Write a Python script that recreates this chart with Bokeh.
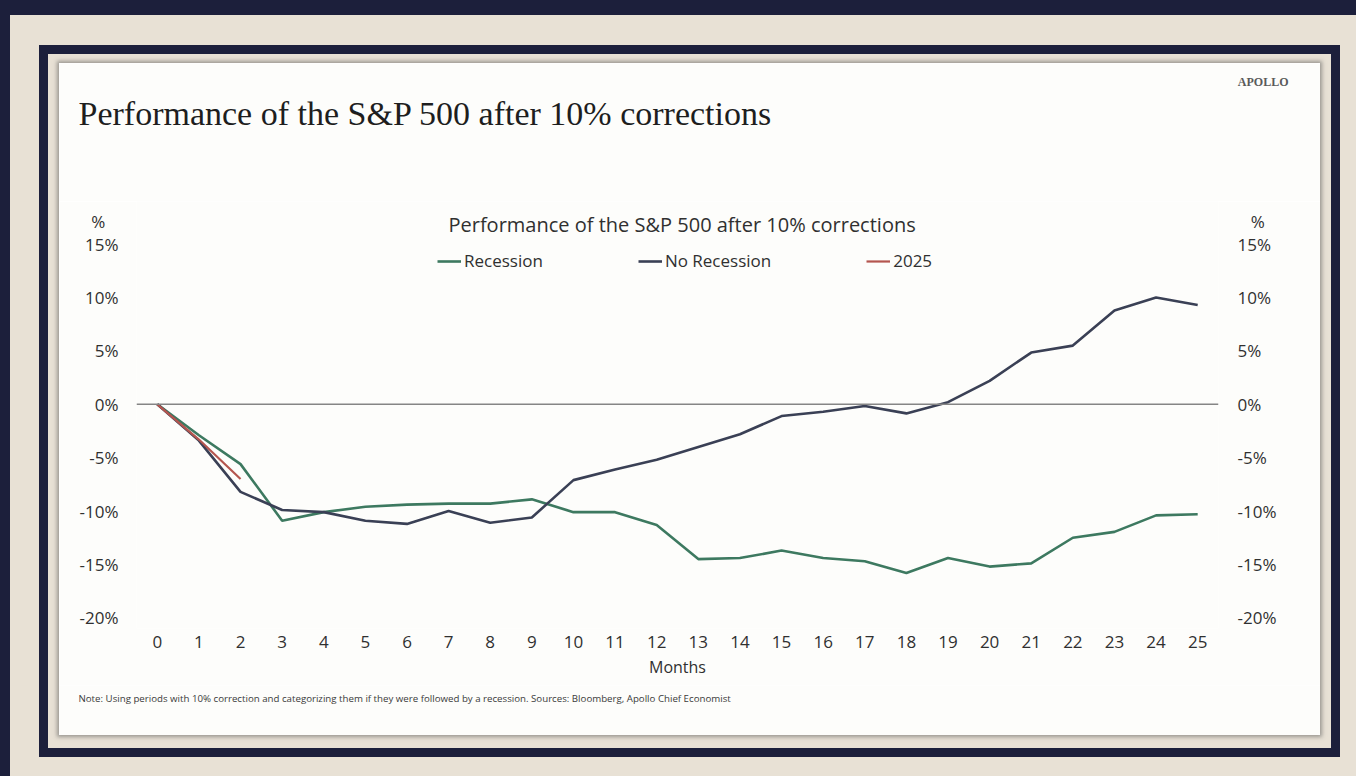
from bokeh.plotting import figure
from bokeh.models import Range1d, LinearAxis, FixedTicker, CustomJSTickFormatter, Span, Label
from bokeh.layouts import column
from bokeh.embed import file_html
from bokeh.resources import INLINE

# ---------------- data ----------------
months = list(range(26))
recession = [0, -2.9, -5.6, -10.9, -10.1, -9.6, -9.4, -9.3, -9.3, -8.9,
             -10.1, -10.1, -11.3, -14.5, -14.4, -13.7, -14.4, -14.7, -15.8, -14.4,
             -15.2, -14.9, -12.5, -11.95, -10.4, -10.3]
no_recession = [0, -3.4, -8.2, -9.9, -10.1, -10.9, -11.2, -10.0, -11.1, -10.6,
                -7.1, -6.1, -5.2, -4.0, -2.8, -1.1, -0.7, -0.15, -0.85, 0.2,
                2.2, 4.85, 5.5, 8.8, 10.0, 9.3]
months_2025 = [0, 1, 2]
y2025 = [0, -3.3, -7.0]
y_ticks = [-20, -15, -10, -5, 0, 5, 10, 15]
series_names = ["Recession", "No Recession", "2025"]

title_text = "Performance of the S&P 500 after 10% corrections"
subtitle_text = "Performance of the S&P 500 after 10% corrections"
brand_text = "APOLLO"
note_text = ("Note: Using periods with 10% correction and categorizing them if they were "
             "followed by a recession. Sources: Bloomberg, Apollo Chief Economist")

# ---------------- style ----------------
W = 1261
PANEL = "#fdfdfb"
NAVY = "#1c1f3b"
BEIGE = "#e8e1d5"
GREEN = "#3d7960"
SLATE = "#3a4055"
RED = "#b4564f"
TXT = "#303030"
SANS = "Open Sans"
SERIF = "Liberation Serif"
PCT_HEADER_POS = 17.1


def no_align(fig):
    if "frame_align" in fig.properties():
        fig.frame_align = False


# ---------------- header ----------------
header = figure(width=W, height=138, x_range=Range1d(0, W), y_range=Range1d(138, 0),
                x_axis_type=None, y_axis_type=None, min_border=0,
                toolbar_location=None, output_backend="svg", outline_line_color=None,
                background_fill_color=PANEL, border_fill_color=PANEL)
no_align(header)
header.add_layout(Label(x=19, y=50, text=title_text, text_font=SERIF, text_font_size="34px",
                        text_color="#1e1e1e", text_baseline="alphabetic", text_align="left"))
header.add_layout(Label(x=1229, y=18.5, text=brand_text, text_font=SERIF, text_font_size="12px",
                        text_font_style="bold", text_color="#5a5a5a",
                        text_baseline="alphabetic", text_align="right"))

# ---------------- main chart ----------------
p = figure(width=W, height=484, x_range=Range1d(-0.5, 25.5), y_range=Range1d(-21, 19),
           min_border_left=77, min_border_right=102, min_border_top=0, min_border_bottom=57,
           toolbar_location=None, output_backend="svg", outline_line_color=None,
           background_fill_color=PANEL, border_fill_color=PANEL)
no_align(p)
p.xgrid.visible = False
p.ygrid.visible = False

NB = "\\u00a0\\u00a0\\u00a0"
LEFT_CODE = "return tick > 16 ? '%" + NB + "' : tick.toFixed(0) + '%';"
RIGHT_CODE = "return tick > 16 ? '" + NB + "%' : tick.toFixed(0) + '%';"
p.yaxis.ticker = FixedTicker(ticks=y_ticks + [PCT_HEADER_POS])
p.yaxis.formatter = CustomJSTickFormatter(code=LEFT_CODE)
right_axis = LinearAxis(ticker=FixedTicker(ticks=y_ticks + [PCT_HEADER_POS]),
                        formatter=CustomJSTickFormatter(code=RIGHT_CODE))
p.add_layout(right_axis, "right")
p.xaxis.ticker = FixedTicker(ticks=months)
p.xaxis.axis_label = "Months"

for ax in [p.xaxis[0], p.yaxis[0], right_axis]:
    ax.axis_line_color = None
    ax.major_tick_line_color = None
    ax.minor_tick_line_color = None
    ax.major_tick_out = 0
    ax.major_tick_in = 0
    ax.minor_tick_out = 0
    ax.minor_tick_in = 0
    ax.major_label_text_font = SANS
    ax.major_label_text_font_size = "17px"
    ax.major_label_text_color = TXT
    ax.axis_label_text_font = SANS
    ax.axis_label_text_font_size = "16px"
    ax.axis_label_text_font_style = "normal"
    ax.axis_label_text_color = TXT
p.yaxis[0].major_label_standoff = 18
right_axis.major_label_standoff = 19
p.xaxis[0].major_label_standoff = 7
p.xaxis[0].axis_label_standoff = 5

p.add_layout(Span(location=0, dimension="width", line_color="#858585", line_width=1.5))

p.line(months, recession, line_color=GREEN, line_width=2.6, legend_label=series_names[0])
p.line(months, no_recession, line_color=SLATE, line_width=2.6, legend_label=series_names[1])
p.line(months_2025, y2025, line_color=RED, line_width=2.2, legend_label=series_names[2])

lg = p.legend[0]
lg.orientation = "horizontal"
lg.location = (301, 356)
lg.padding = 0
lg.margin = 0
lg.spacing = 95
lg.glyph_width = 24
lg.glyph_height = 20
lg.label_height = 20
lg.label_standoff = 3
lg.label_text_font = SANS
lg.label_text_font_size = "17px"
lg.label_text_color = TXT
lg.background_fill_alpha = 0
lg.border_line_color = None

p.add_layout(Label(x=12.61, y=16.82, text=subtitle_text, text_font=SANS, text_font_size="20px",
                   text_color=TXT, text_align="center", text_baseline="middle"))

# ---------------- footer ----------------
footer = figure(width=W, height=50, x_range=Range1d(0, W), y_range=Range1d(50, 0),
                x_axis_type=None, y_axis_type=None, min_border=0,
                toolbar_location=None, output_backend="svg", outline_line_color=None,
                background_fill_color=PANEL, border_fill_color=PANEL)
no_align(footer)
footer.add_layout(Label(x=19, y=13, text=note_text, text_font=SANS, text_font_size="9.7px",
                        text_color="#3a3a3a", text_baseline="middle", text_align="left"))

SHADOW = ", ".join([
    "0 0 4px 2px rgba(90,90,90,0.55)",
    f"0 2px 0 11px {BEIGE}",
    f"0 2px 0 20px {NAVY}",
    f"0 -820px 0 100px {NAVY}",
    f"-1410px 0 0 100px {NAVY}",
    f"0 0 0 3000px {BEIGE}",
])

layout = column(header, p, footer, margin=(63, 0, 0, 59), spacing=0,
                styles={"box-shadow": SHADOW})

open("out.html", "w").write(file_html(layout, INLINE))
